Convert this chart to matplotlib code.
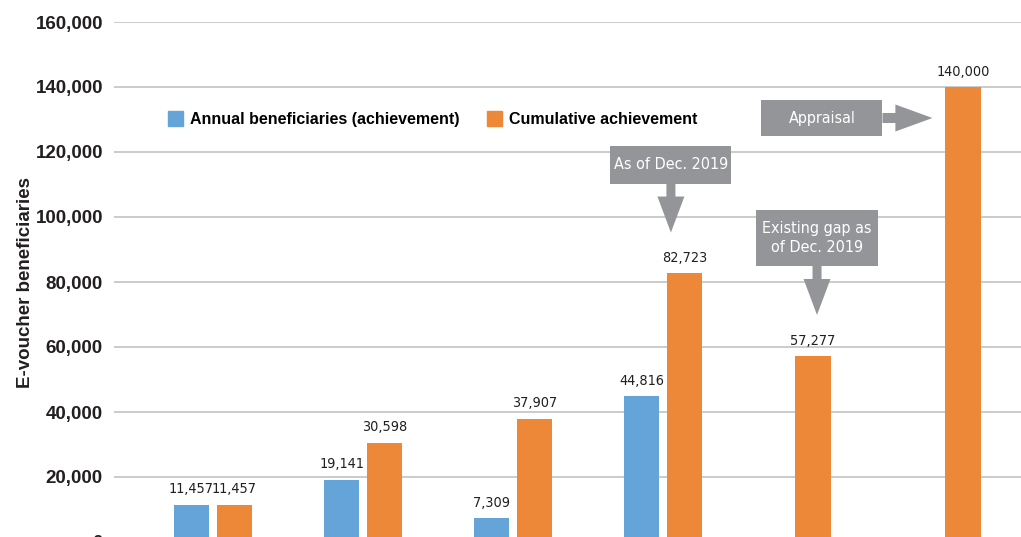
import matplotlib
matplotlib.use("Agg")
from matplotlib import pyplot as plt
from matplotlib.patches import Rectangle, FancyArrow, Patch

# data
annual = [11457, 19141, 7309, 44816]
cumulative = [11457, 30598, 37907, 82723, 57277, 140000]
y_ticks = [0, 20000, 40000, 60000, 80000, 100000, 120000, 140000, 160000]

BLUE = "#65A4D9"
ORANGE = "#EE8839"
GREY = "#939598"
DARK = "#231F20"

plt.rcParams["font.family"] = ["Liberation Sans", "DejaVu Sans"]

fig = plt.figure(figsize=(10.21, 5.37), dpi=100)
ax = fig.add_axes([114 / 1021, -5 / 537, 907 / 1021, 520 / 537])

w = 0.235
off = 0.143
xs_annual = [i - off for i in range(len(annual))]
xs_cum = [i + off if i < len(annual) else i for i in range(len(cumulative))]

b1 = ax.bar(xs_annual, annual, width=w, color=BLUE, zorder=3)
b2 = ax.bar(xs_cum, cumulative, width=w, color=ORANGE, zorder=3)
for bars in (b1, b2):
    ax.bar_label(bars, labels=[f"{v:,}" for v in bars.datavalues],
                 padding=6, fontsize=10.4, color=DARK, family="DejaVu Sans",
                 fontstretch="condensed")

ax.set_xlim(-0.66, 5.387)
ax.set_ylim(0, 160000)
ax.set_yticks(y_ticks)
ax.set_yticklabels([f"{v:,}" for v in y_ticks], fontsize=13.5,
                   fontweight="bold", color=DARK)
ax.set_xticks([])
ax.tick_params(axis="y", length=0, pad=8)
ax.grid(axis="y", color="#BDBDBD", linewidth=1.1, zorder=0)
for s in ax.spines.values():
    s.set_visible(False)
ax.set_ylabel("E-voucher beneficiaries", fontsize=13.5, fontweight="bold",
              color=DARK, labelpad=1)

handles = [Patch(color=BLUE, label="Annual beneficiaries (achievement)"),
           Patch(color=ORANGE, label="Cumulative achievement")]
ax.legend(handles=handles, loc="center left", bbox_to_anchor=(0.059, 0.813),
          ncol=2, frameon=False, handlelength=1.0, handleheight=1.0,
          handletextpad=0.4, columnspacing=1.7, borderpad=0, borderaxespad=0,
          prop={"weight": "bold", "size": 11.5})


def callout(text, cx, cy, h, arrow_dir, length, bw=0.807):
    # grey box with white text plus a thick arrow
    ax.add_patch(Rectangle((cx - bw / 2, cy - h / 2), bw, h, color=GREY,
                           zorder=4, linewidth=0))
    ax.text(cx, cy, text, ha="center", va="center", color="white",
            fontsize=11.5, family="DejaVu Sans", fontstretch="condensed",
            zorder=5, linespacing=1.4)
    if arrow_dir == "down":
        ax.add_patch(FancyArrow(cx, cy - h / 2, 0, -length, width=0.06,
                                head_width=0.18, head_length=11077,
                                length_includes_head=True, color=GREY,
                                linewidth=0, zorder=4))
    else:
        ax.add_patch(FancyArrow(cx + bw / 2, cy, length, 0, width=3077,
                                head_width=8308, head_length=0.247,
                                length_includes_head=True, color=GREY,
                                linewidth=0, zorder=4))


callout("Appraisal", 4.06, 130460, 11077, "right", 0.333)
callout("As of Dec. 2019", 3.053, 116000, 11400, "down", 15077)
callout("Existing gap as\nof Dec. 2019", 4.027, 93540, 17230, "down", 15077)

fig.savefig("out.png", dpi=100)
